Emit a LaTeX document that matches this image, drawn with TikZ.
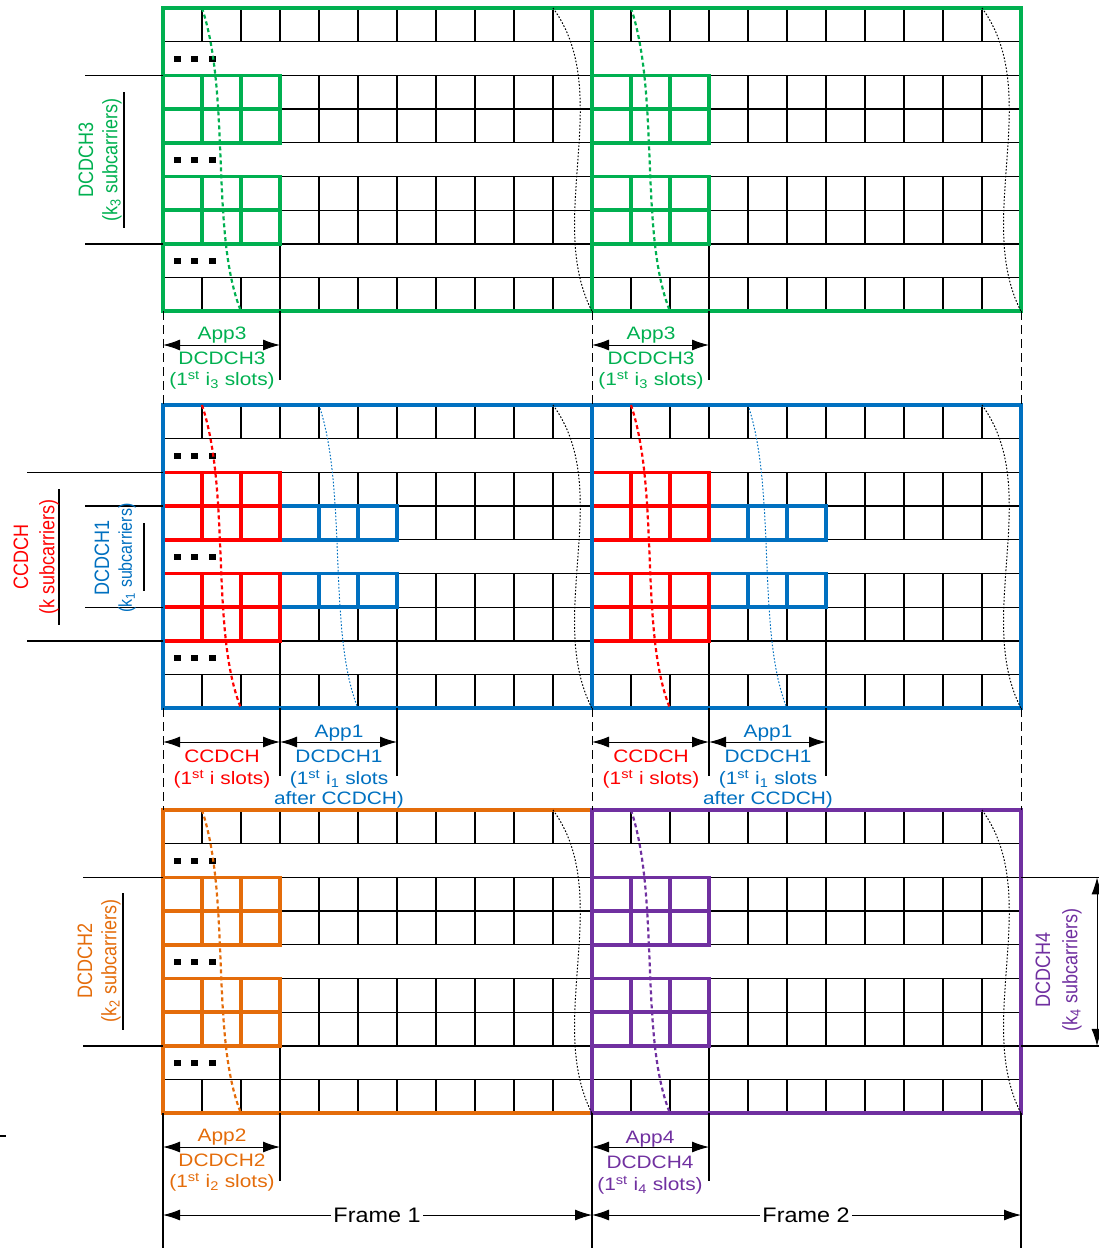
\documentclass[tikz,border=0pt]{standalone}
\usepackage{fontspec}
\setmainfont{Liberation Sans}
\usetikzlibrary{arrows.meta}
\definecolor{vert}{HTML}{00B050}
\definecolor{bleu}{HTML}{0070C0}
\definecolor{rouge}{HTML}{FF0000}
\definecolor{orangeC}{HTML}{E46C0A}
\definecolor{violetC}{HTML}{7030A0}

\begin{document}
\begin{tikzpicture}[x=1pt, y=-1pt,
    grille/.style={line width=1.3pt},
    bloc/.style={line width=3.8pt},
    cadre/.style={line width=3.8pt},
    cote/.style={line width=1pt, {Latex[length=17pt,width=11pt]}-{Latex[length=17pt,width=11pt]}},
    rappel/.style={line width=1pt, dash pattern=on 9pt off 5pt},
    texte/.style={font=\fontsize{18}{20}\selectfont, xscale=1.16, inner sep=0pt},
    courbe/.style={line width=2.2pt, dash pattern=on 4pt off 3pt},
    pointille/.style={line width=1pt, dash pattern=on 1.6pt off 1.8pt}]
    \useasboundingbox (0,0) rectangle (1099,1251);

    % Grille des trois panneaux (lignes, cellules, points de suspension)
    \foreach \T in {8,405,810} {
        \foreach \k in {1,...,8}
            \draw[grille] (163,\T+\k*33.7) -- (1021,\T+\k*33.7);
        \foreach \r in {0,2,3,5,6,8}
            \foreach \c in {1,...,21}
                \draw[grille] (163+\c*39,\T+\r*33.7) -- ++(0,33.7);
        \foreach \X in {280,709}
            \draw[grille] (\X,\T+7*33.7) -- ++(0,33.7);
        \foreach \r in {1,4,7}
            \foreach \X in {174,191,209}
                \fill (\X,\T+\r*33.7+14) rectangle ++(7,6);
    }
    \foreach \X in {397,826}
        \draw[grille] (\X,405+7*33.7) -- ++(0,33.7);

    % Blocs DCDCH3 (panneau du haut)
    \foreach \F in {0,429}
        \foreach \r in {2,3,5,6}
            \foreach \c in {0,1,2}
                \draw[bloc,vert] (163+\F+\c*39,8+\r*33.7) rectangle ++(39,33.7);

    % Blocs DCDCH1 puis CCDCH (panneau du milieu)
    \foreach \F in {0,429}
        \foreach \r in {3,5}
            \foreach \c in {3,4,5}
                \draw[bloc,bleu] (163+\F+\c*39,405+\r*33.7) rectangle ++(39,33.7);
    \foreach \F in {0,429}
        \foreach \r in {2,3,5,6}
            \foreach \c in {0,1,2}
                \draw[bloc,rouge] (163+\F+\c*39,405+\r*33.7) rectangle ++(39,33.7);

    % Blocs DCDCH2 et DCDCH4 (panneau du bas)
    \foreach \F/\col in {0/orangeC,429/violetC}
        \foreach \r in {2,3,5,6}
            \foreach \c in {0,1,2}
                \draw[bloc,\col] (163+\F+\c*39,810+\r*33.7) rectangle ++(39,33.7);

    % Cadres des trames
    \draw[cadre,vert] (163,8) rectangle (1021,311.3) (592,8) -- (592,311.3);
    \draw[cadre,bleu] (163,405) rectangle (1021,708.3) (592,405) -- (592,708.3);
    \draw[cadre,orangeC] (163,810) rectangle (592,1113.3);
    \draw[cadre,violetC] (592,810) rectangle (1021,1113.3);

    % Courbes en pointilles
    \foreach \T in {8,405,810}
        \foreach \F in {0,429}
            \draw[pointille] (553+\F,\T) .. controls (615+\F,\T+85) and (545+\F,\T+212) .. (592+\F,\T+303.3);
    \foreach \F in {0,429} {
        \draw[courbe,vert] (202+\F,8) .. controls (231+\F,95) and (210+\F,235) .. (241+\F,311.3);
        \draw[courbe,rouge] (202+\F,405) .. controls (231+\F,492) and (210+\F,632) .. (241+\F,708.3);
        \draw[pointille,bleu] (319+\F,405) .. controls (348+\F,492) and (327+\F,632) .. (358+\F,708.3);
    }
    \draw[courbe,orangeC] (202,810) .. controls (231,897) and (210,1037) .. (241,1113.3);
    \draw[courbe,violetC] (631,810) .. controls (660,897) and (639,1037) .. (670,1113.3);

    % Etiquettes des sous-porteuses (a gauche et a droite)
    \draw[grille] (85,75.4) -- (163,75.4) (85,243.9) -- (163,243.9) (124,92) -- (124,228);
    \node[texte, rotate=90, vert] (d3) at (86,160) {DCDCH3};
    \node[texte, rotate=90, vert] (k3) at (112,160) {(k\textsubscript{3} subcarriers)};

    \draw[grille] (27,472.4) -- (163,472.4) (27,640.9) -- (163,640.9) (59,489) -- (59,625);
    \node[texte, rotate=90, rouge] (cc) at (21,557) {CCDCH};
    \node[texte, rotate=90, rouge] (kc) at (49,557) {(k subcarriers)};

    \draw[grille] (85,506.1) -- (163,506.1) (85,607.2) -- (163,607.2) (144,523) -- (144,591);
    \node[texte, rotate=90, bleu] (d1) at (102,558) {DCDCH1};
    \node[texte, rotate=90, bleu, font=\fontsize{16}{18}\selectfont] (k1) at (127,558) {(k\textsubscript{1} subcarriers)};

    \draw[grille] (83,877.4) -- (163,877.4) (83,1045.9) -- (163,1045.9) (123,893) -- (123,1030);
    \node[texte, rotate=90, orangeC] (d2) at (85,961) {DCDCH2};
    \node[texte, rotate=90, orangeC] (k2) at (111,961) {(k\textsubscript{2} subcarriers)};

    \draw[grille] (1021,877.4) -- (1099,877.4) (1021,1045.9) -- (1099,1045.9);
    \coordinate (h4) at (1097,877.4);
    \coordinate (b4) at (1097,1045.9);
    \draw[cote] (h4) -- (b4);
    \node[texte, rotate=90, violetC] (d4) at (1043,970) {DCDCH4};
    \node[texte, rotate=90, violetC] (k4) at (1072,970) {(k\textsubscript{4} subcarriers)};

    % Lignes de rappel entre les panneaux
    \foreach \X in {163,592,1021} {
        \draw[rappel] (\X,311.3) -- (\X,405);
        \draw[rappel] (\X,708.3) -- (\X,810);
        \draw[grille] (\X,1113.3) -- (\X,1248);
    }
    \foreach \X in {280,709}
        \draw[grille] (\X,311.3) -- (\X,380);
    \foreach \X in {280,397,709,826}
        \draw[grille] (\X,708.3) -- (\X,776);
    \foreach \X in {280,709}
        \draw[grille] (\X,1113.3) -- (\X,1181);
    \draw[line width=2pt] (0,1136) -- (6,1136);

    % Cotes App3 / DCDCH3
    \foreach \F/\n in {0/a,429/b} {
        \coordinate (g\n1) at (163+\F,345);
        \coordinate (g\n2) at (280+\F,345);
        \draw[cote] (g\n1) -- (g\n2);
        \node[texte, vert] (app3\n) at (222+\F,335) {App3};
        \node[texte, vert] (dc3\n) at (222+\F,358) {DCDCH3};
        \node[texte, vert] (sl3\n) at (222+\F,380) {(1\textsuperscript{st} i\textsubscript{3} slots)};
    }

    % Cotes CCDCH et App1 / DCDCH1
    \foreach \F/\n in {0/a,429/b} {
        \coordinate (r\n1) at (163+\F,742);
        \coordinate (r\n2) at (280+\F,742);
        \coordinate (r\n3) at (397+\F,742);
        \draw[cote] (r\n1) -- (r\n2);
        \draw[cote] (r\n2) -- (r\n3);
        \node[texte, rouge] (cc\n) at (222+\F,756) {CCDCH};
        \node[texte, rouge] (slc\n) at (222+\F,779) {(1\textsuperscript{st} i slots)};
        \node[texte, bleu] (app1\n) at (339+\F,733) {App1};
        \node[texte, bleu] (dc1\n) at (339+\F,756) {DCDCH1};
        \node[texte, bleu] (sl1\n) at (339+\F,779) {(1\textsuperscript{st} i\textsubscript{1} slots};
        \node[texte, bleu] (af1\n) at (339+\F,800) {after CCDCH)};
    }

    % Cotes App2 / DCDCH2 et App4 / DCDCH4
    \coordinate (o1) at (163,1147);
    \coordinate (o2) at (280,1147);
    \draw[cote] (o1) -- (o2);
    \node[texte, orangeC] (app2) at (222,1137) {App2};
    \node[texte, orangeC] (dc2) at (222,1160) {DCDCH2};
    \node[texte, orangeC] (sl2) at (222,1182) {(1\textsuperscript{st} i\textsubscript{2} slots)};
    \coordinate (p1) at (592,1147);
    \coordinate (p2) at (709,1147);
    \draw[cote] (p1) -- (p2);
    \node[texte, violetC] (app4) at (650,1139) {App4};
    \node[texte, violetC] (dc4) at (650,1162) {DCDCH4};
    \node[texte, violetC] (sl4) at (650,1185) {(1\textsuperscript{st} i\textsubscript{4} slots)};

    % Trames
    \coordinate (f0) at (163,1215);
    \coordinate (f1) at (592,1215);
    \coordinate (f2) at (1021,1215);
    \draw[cote] (f0) -- (f1);
    \draw[cote] (f1) -- (f2);
    \node[texte, fill=white, inner sep=2pt, font=\fontsize{21}{24}\selectfont, xscale=0.96] (tr1) at (377,1215) {Frame 1};
    \node[texte, fill=white, inner sep=2pt, font=\fontsize{21}{24}\selectfont, xscale=0.96] (tr2) at (806,1215) {Frame 2};
\end{tikzpicture}
\end{document}
